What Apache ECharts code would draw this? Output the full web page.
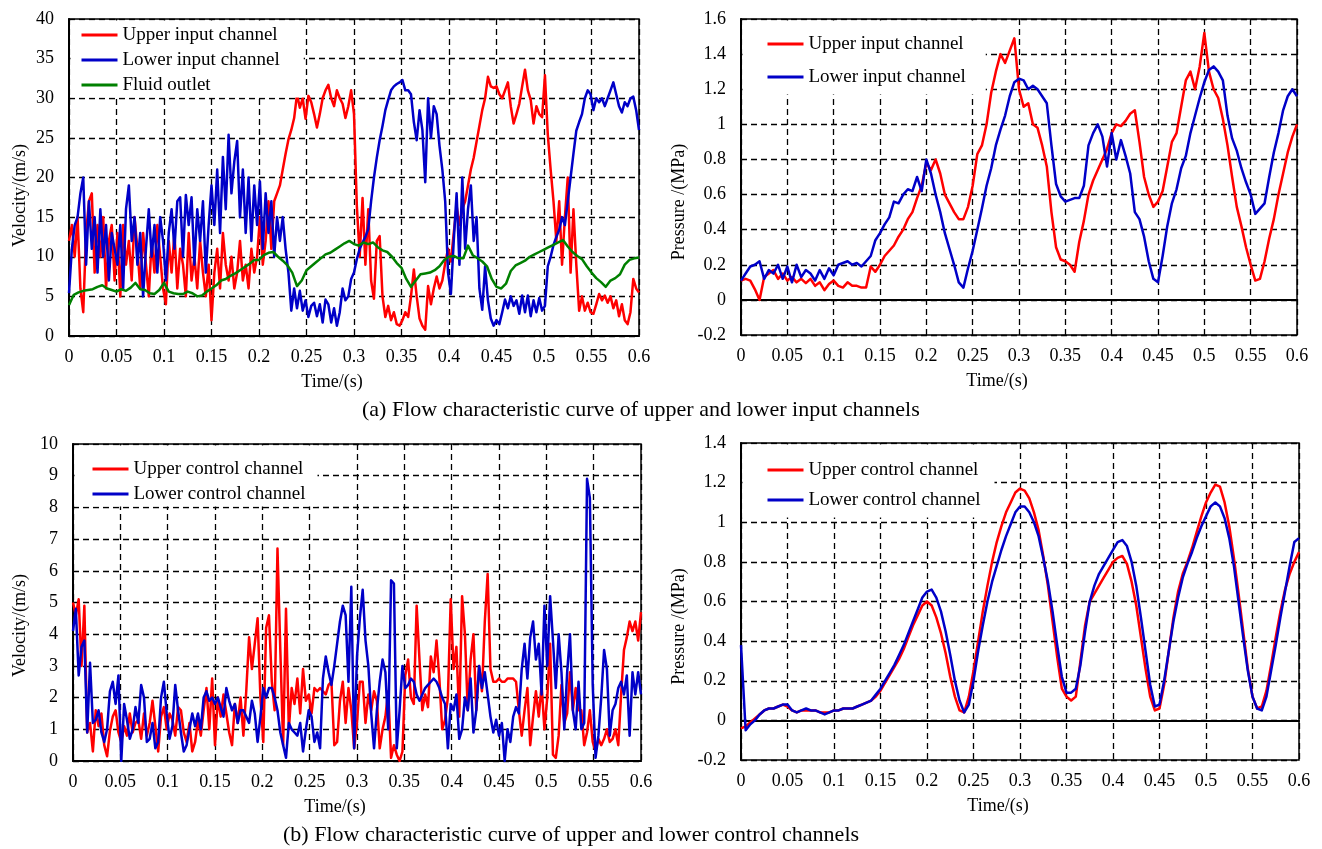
<!DOCTYPE html>
<html>
<head>
<meta charset="utf-8">
<title>Flow characteristic curves</title>
<script src="https://cdn.jsdelivr.net/npm/echarts@6/dist/echarts.min.js"></script>
<style>
    html, body { margin: 0; padding: 0; background: #fff; }
    #main { width: 1322px; height: 849px; }
</style>
</head>
<body>
<div id="main"></div>
<script>
var velStep = 0.003;
var presStep = 0.005;

// axis ranges: [min, max, interval]
var timeRange = [0, 0.6, 0.05];
var inputVelRange = [0, 40, 5];
var inputPresRange = [-0.2, 1.6, 0.2];
var controlVelRange = [0, 10, 1];
var controlPresRange = [-0.2, 1.4, 0.2];

// (a) velocity, m/s  (velStep)
var upperInputVel = [
    12, 14, 10, 15, 6, 3, 13, 17, 18, 8,
    14, 10, 15, 6, 12, 14, 7, 13, 5, 14,
    9, 12, 7, 15, 11, 6, 13, 9, 5, 12,
    8, 14, 10, 6, 4, 12, 8, 13, 6, 11,
    9, 5, 13, 7, 10, 6, 12, 8, 5, 9,
    2, 8, 11, 6, 13, 9, 7, 10, 6, 8,
    12, 7, 9, 6, 11, 8, 10, 15, 9, 12,
    17, 11, 17, 18, 19, 21, 23, 24.8, 26, 27.5,
    30.5, 28.8, 30, 27.4, 30.3, 29.5, 28, 26.3, 28, 30,
    31, 31.7, 30, 29, 31, 30, 29.3, 27.5, 29, 31,
    28, 16.4, 10, 17.4, 9, 16, 7, 4.7, 12, 12.6,
    5, 2.4, 3.8, 2, 3, 1.5, 1.3, 2, 3, 2.4,
    5, 8.4, 5, 2.2, 1.3, 0.8, 6.3, 4, 6, 7.5,
    6, 7, 9.2, 11, 9.4, 13, 16.4, 14, 16, 17,
    19, 21, 22.5, 24.5, 26.5, 28.5, 30, 32.7, 31.5, 31.3,
    31.5, 30.5, 30, 31, 32, 29, 26.8, 28, 29.3, 31.5,
    33.6, 31, 29.8, 26.8, 29, 28, 27.6, 32.9, 25.4, 21,
    17, 12, 17, 9, 15, 20, 8, 16, 9, 3.2,
    5, 3.2, 4.2, 3, 2.8, 4, 5.3, 4.5, 5.1, 4.2,
    5, 3.5, 4.5, 2.5, 4, 2, 1.5, 3, 7.2, 6,
    5.5
];
var lowerInputVel = [
    5.4, 11, 14, 15, 18, 20, 9, 17, 11, 15,
    8, 16, 10, 14, 7, 13, 11, 9, 14, 6,
    16, 19, 12, 15, 9, 13, 5, 11, 16, 10,
    14, 8, 15, 12, 7, 13, 16, 11, 17, 17.5,
    10, 17.8, 14, 17.5, 9, 16, 12, 17, 8, 14,
    19, 14, 21, 13, 22.6, 16, 25.4, 18, 22, 24.6,
    15, 21, 13, 20, 12, 19, 14, 19.5, 11, 18,
    13, 17, 10, 15, 12, 15, 11, 8, 3.2, 6,
    3.5, 5.7, 3.2, 4.5, 2.4, 3.8, 4.2, 2.5, 4, 1.7,
    4.6, 4, 1.7, 3.5, 1.3, 3, 6, 4.5, 5, 7.2,
    8, 9.7, 11, 11.8, 12.5, 13.5, 17, 20, 22.5, 24.7,
    26.5, 28.5, 29.8, 31, 31.5, 31.8, 32, 32.3, 31, 31,
    30.5, 27, 24.7, 28.5, 26, 19.4, 30, 25, 29, 28,
    24, 21, 17, 8, 5.3, 12, 18, 9, 20, 11,
    16, 19, 12, 15, 6, 3.3, 8.8, 4.5, 2.2, 1.3,
    2, 1.5, 3, 4.6, 3.5, 5, 3.8, 4.5, 2.8, 5.1,
    3, 5.1, 2.5, 4.5, 3, 4.8, 3.2, 3.8, 8.8, 10,
    11.5, 12.5, 13.4, 15, 14, 17, 20, 23, 25.9, 27,
    28, 30, 31, 30.5, 28.5, 30, 29.5, 30, 29, 30,
    31, 32, 30.5, 29, 28.2, 29.5, 29, 30, 30.2, 28.5,
    26
];
// (presStep)
var fluidOutletVel = [
    3.9, 5.2, 5.5, 5.7, 5.8, 5.9, 6.2, 6.4, 6.0, 5.8,
    5.6, 5.9, 5.7, 6.1, 6.7, 5.9, 5.8, 5.4, 5.3, 5.8,
    6.7, 5.6, 5.4, 5.3, 5.3, 5.6, 5.4, 5.0, 5.1, 5.6,
    6.0, 6.4, 7.0, 7.2, 7.6, 7.9, 8.3, 8.7, 9.1, 9.6,
    9.6, 10.2, 10.5, 10.6, 10.0, 9.5, 8.9, 8.0, 6.3, 7.0,
    8.3, 8.8, 9.3, 9.8, 10.3, 10.5, 10.9, 11.3, 11.7, 12.0,
    11.6, 11.4, 11.8, 11.6, 11.8, 11.2, 10.8, 10.6, 10.0, 9.2,
    8.6, 7.2, 6.2, 7.0, 7.8, 7.9, 8.0, 8.3, 8.8, 9.6,
    10.0, 10.1, 9.8, 9.8, 11.4, 10.2, 9.8, 9.4, 8.8, 7.2,
    6.2, 6.0, 6.6, 8.2, 8.9, 9.2, 9.5, 10.0, 10.3, 10.6,
    10.9, 11.2, 11.5, 11.8, 12.1, 11.3, 10.6, 10.1, 9.7, 8.8,
    8.0, 7.3, 6.8, 6.2, 7.0, 7.3, 7.8, 9.0, 9.6, 9.8,
    9.9
];

// (a) pressure, MPa  (presStep)
var upperInputPres = [
    0.11, 0.12, 0.11, 0.06, 0.0, 0.13, 0.15, 0.17, 0.12, 0.15,
    0.11, 0.13, 0.1, 0.12, 0.095, 0.12, 0.08, 0.1, 0.055, 0.09,
    0.11, 0.08, 0.07, 0.1, 0.08, 0.08, 0.07, 0.07, 0.19, 0.16,
    0.2, 0.25, 0.28, 0.31, 0.36, 0.4, 0.46, 0.5, 0.58, 0.65,
    0.78, 0.74, 0.8, 0.72, 0.6, 0.55, 0.5, 0.46, 0.46, 0.53,
    0.65, 0.83, 0.88, 1.0, 1.18, 1.3, 1.4, 1.35, 1.42, 1.49,
    1.2, 1.1, 1.12, 1.0, 0.98, 0.88, 0.76, 0.5, 0.3, 0.23,
    0.22, 0.2, 0.16, 0.33, 0.45, 0.6, 0.68, 0.74, 0.8, 0.86,
    0.95, 1.0, 0.99, 1.02, 1.06, 1.08, 0.9, 0.7, 0.6, 0.53,
    0.56, 0.62, 0.76, 0.9, 0.95, 1.1, 1.25, 1.3, 1.2, 1.33,
    1.52, 1.3, 1.2, 1.15, 1.03, 0.88, 0.7, 0.53, 0.42, 0.3,
    0.2, 0.11, 0.12, 0.22, 0.35, 0.46, 0.6, 0.72, 0.84, 0.93,
    1.0
];
var lowerInputPres = [
    0.11, 0.15, 0.19, 0.2, 0.22, 0.12, 0.17, 0.15, 0.2, 0.12,
    0.19, 0.1, 0.2, 0.13, 0.17, 0.15, 0.11, 0.17, 0.12, 0.18,
    0.14, 0.2, 0.21, 0.22, 0.2, 0.21, 0.19, 0.22, 0.25, 0.34,
    0.38, 0.43, 0.47, 0.56, 0.55, 0.6, 0.63, 0.62, 0.7, 0.62,
    0.8, 0.72, 0.6, 0.5, 0.38, 0.29, 0.2, 0.1, 0.07, 0.18,
    0.28, 0.4, 0.52, 0.65, 0.75, 0.88, 0.97, 1.05, 1.16, 1.24,
    1.26, 1.25, 1.2, 1.22, 1.2, 1.16, 1.12, 0.88, 0.66, 0.59,
    0.56, 0.57, 0.58, 0.58, 0.65, 0.88, 0.95, 1.0, 0.93, 0.76,
    0.95, 0.8, 0.91, 0.82, 0.72, 0.5, 0.46, 0.36, 0.22, 0.12,
    0.1, 0.25, 0.42, 0.55, 0.63, 0.75, 0.82, 0.95, 1.05, 1.15,
    1.24, 1.31, 1.33, 1.3, 1.25, 1.05, 0.92, 0.85, 0.75, 0.67,
    0.6, 0.49, 0.52, 0.55, 0.7, 0.84, 0.95, 1.08, 1.16, 1.2,
    1.16
];

// (b) velocity, m/s  (velStep)
var upperControlVel = [
    5.0, 4.6, 5.1, 3.0, 4.9, 0.9, 1.2, 0.3, 1.6, 1.1,
    1.5, 0.5, 0.15, 0.95, 1.4, 1.6, 0.9, 0.6, 1.1, 0.8,
    1.5, 0.9, 1.2, 1.3, 0.7, 1.5, 0.8, 1.2, 1.9, 1.1,
    0.3, 1.4, 1.7, 1.0, 1.5, 1.3, 0.8, 1.7, 1.6, 0.9,
    0.6, 1.2, 0.3, 0.6, 1.3, 0.8, 1.6, 2.3, 1.0, 2.6,
    0.5, 2.0, 1.4, 2.1, 1.5, 0.9, 0.5, 1.8, 1.2, 2.0,
    0.8, 2.2, 3.9, 2.9, 3.7, 4.5, 2.0, 0.6, 4.2, 4.6,
    2.5, 1.6, 6.7, 3.5, 0.5, 4.8, 1.0, 2.3, 1.8, 2.6,
    1.5, 2.9, 1.9, 2.1, 1.5, 2.3, 2.2, 2.3, 2.2, 2.1,
    2.4, 2.5, 0.5, 0.6, 1.9, 2.5, 1.2, 2.3, 1.6, 0.4,
    1.2, 2.5, 2.5, 1.2, 2.1, 1.6, 2.2, 1.9, 0.4, 1.0,
    1.4, 2.2, 0.1, 0.5, 0.2, 0.0, 0.3, 2.7, 3.2, 2.0,
    1.8, 4.9, 3.2, 1.6, 2.1, 1.7, 3.3, 2.8, 3.8, 2.6,
    1.0, 1.3, 2.0, 5.1, 2.9, 3.6, 1.4, 5.2, 4.0, 1.6,
    3.2, 4.0, 1.6, 3.0, 2.2, 4.4, 5.9, 2.9, 2.5, 2.5,
    2.6, 2.5, 2.5, 2.6, 2.6, 2.6, 2.5, 1.6, 0.8, 1.6,
    2.3, 0.5, 1.4, 2.2, 1.4, 2.4, 1.0, 2.0, 3.7, 0.2,
    0.1, 0.8, 2.4, 1.2, 1.5, 2.8, 1.6, 2.3, 1.6, 1.6,
    0.5, 0.9, 1.6, 0.6, 0.3, 0.7, 0.5, 0.7, 1.0, 0.6,
    0.7, 1.0, 0.5, 2.1, 3.5, 3.9, 4.4, 4.1, 4.4, 3.8,
    4.7
];
var lowerControlVel = [
    4.1, 4.8, 2.7, 3.6, 3.8, 0.9, 3.1, 1.2, 1.3, 1.6,
    0.9, 0.6, 1.0, 2.2, 2.5, 1.8, 2.7, 0.0, 1.8, 1.3,
    0.7, 1.0, 1.7, 1.2, 2.4, 2.0, 0.6, 0.7, 1.2, 0.4,
    0.6, 2.0, 2.5, 1.5, 0.7, 1.1, 2.4, 1.6, 0.9, 0.3,
    0.5, 1.0, 1.5, 1.1, 1.5, 1.0, 2.0, 2.2, 1.9, 2.0,
    1.8, 2.0, 1.7, 1.4, 2.3, 1.9, 1.6, 1.8, 1.2, 1.6,
    1.6, 1.4, 1.2, 1.9, 1.5, 0.6, 1.4, 2.3, 2.0, 2.3,
    2.3, 2.0, 1.6, 0.9, 0.5, 0.1, 1.2, 1.0, 0.9, 0.8,
    1.2, 0.3, 1.0, 1.6, 1.4, 0.6, 0.9, 0.4, 2.6, 3.3,
    2.8, 2.4, 3.0, 3.7, 4.4, 4.9, 4.6, 2.5, 5.5, 0.4,
    3.3, 4.5, 5.4, 3.8, 3.0, 1.5, 0.4, 1.6, 2.5, 3.2,
    2.8, 1.0, 5.7, 5.6, 0.4, 1.6, 3.0, 2.3, 2.4, 2.6,
    2.5, 2.1, 1.9, 2.1, 2.3, 2.4, 2.5, 2.6, 2.5, 2.3,
    2.0, 1.8, 0.4, 1.8, 1.6, 2.1, 0.7, 1.0, 2.0, 1.6,
    2.6, 0.9, 1.6, 3.0, 2.3, 2.8, 2.1, 1.4, 0.9, 1.3,
    0.8, 1.2, 0.0, 1.0, 0.6, 1.4, 1.7, 1.5, 2.9, 3.7,
    2.6, 3.9, 4.4, 3.2, 3.7, 2.1, 4.9, 3.0, 5.2, 3.8,
    2.3, 4.0, 2.8, 1.0, 2.8, 4.0, 1.6, 1.0, 2.5, 1.0,
    1.2, 8.9, 8.3, 2.4, 0.1, 0.8, 2.0, 3.5, 2.9, 0.8,
    1.6, 1.8, 2.3, 2.5, 2.1, 2.7, 0.8, 2.8, 2.1, 2.8,
    2.1
];

// (b) pressure, MPa  (presStep)
var upperControlPres = [
    -0.04, -0.03, -0.01, 0.01, 0.03, 0.05, 0.06, 0.06, 0.07, 0.08,
    0.07, 0.05, 0.04, 0.05, 0.05, 0.05, 0.05, 0.04, 0.04, 0.04,
    0.05, 0.05, 0.06, 0.06, 0.06, 0.07, 0.08, 0.09, 0.1, 0.12,
    0.15, 0.19, 0.23, 0.27, 0.31, 0.36, 0.42, 0.48, 0.53, 0.58,
    0.6, 0.58, 0.52, 0.44, 0.34, 0.22, 0.12, 0.05, 0.04, 0.12,
    0.25, 0.4, 0.55, 0.68, 0.8, 0.9, 0.98, 1.05, 1.1, 1.15,
    1.17, 1.16, 1.12, 1.05, 0.96, 0.83, 0.68, 0.5, 0.32, 0.16,
    0.12, 0.1, 0.12, 0.3, 0.48, 0.6, 0.64, 0.68, 0.72, 0.76,
    0.8, 0.82, 0.83, 0.79, 0.7, 0.58, 0.42, 0.26, 0.12, 0.05,
    0.06, 0.18, 0.35, 0.52, 0.65, 0.74, 0.8, 0.87, 0.95, 1.03,
    1.1, 1.15, 1.19, 1.18, 1.1, 0.98, 0.82, 0.64, 0.45, 0.26,
    0.12, 0.06, 0.07, 0.15, 0.28, 0.42, 0.55, 0.66, 0.74, 0.8,
    0.85
];
var lowerControlPres = [
    0.38, -0.05, -0.02, 0.0, 0.03, 0.05, 0.06, 0.06, 0.07, 0.08,
    0.08, 0.05, 0.04, 0.05, 0.06, 0.05, 0.05, 0.04, 0.03, 0.04,
    0.05, 0.05, 0.06, 0.06, 0.06, 0.07, 0.08, 0.09, 0.1, 0.13,
    0.16, 0.2, 0.24, 0.28, 0.33, 0.38, 0.44, 0.5, 0.56, 0.62,
    0.65, 0.66, 0.62, 0.55, 0.45, 0.33, 0.2, 0.1, 0.04, 0.08,
    0.2, 0.35, 0.48, 0.6, 0.7, 0.78, 0.86, 0.93, 0.99, 1.05,
    1.08, 1.08, 1.05, 1.0, 0.93, 0.82, 0.7, 0.55, 0.38, 0.22,
    0.14, 0.14, 0.16, 0.28, 0.45, 0.6, 0.68, 0.74, 0.78, 0.82,
    0.86, 0.9, 0.91, 0.88, 0.8, 0.68, 0.52, 0.35, 0.18, 0.07,
    0.08, 0.2, 0.35, 0.5, 0.62, 0.72, 0.79, 0.85, 0.92, 0.98,
    1.03, 1.08, 1.1, 1.08, 1.02, 0.92, 0.78, 0.6, 0.42, 0.25,
    0.12, 0.06, 0.05, 0.12, 0.25, 0.38, 0.52, 0.65, 0.78, 0.9,
    0.92
];

var FONT = 'Liberation Serif';
var RED = '#ff0000', BLUE = '#0000c8', GREEN = '#008000';

// pair each reading with its sample time
function withTime(values, step) {
    return values.map(function (v, i) {
        return [Math.round(i * step * 10000) / 10000, v];
    });
}

function xAxisOf(gi) {
    return {
        type: 'value', gridIndex: gi,
        min: timeRange[0], max: timeRange[1], interval: timeRange[2],
        name: 'Time/(s)', nameLocation: 'middle', nameGap: 37,
        nameTextStyle: {fontFamily: FONT, fontSize: 18, color: '#000', padding: [0, 44, 0, 0]},
        axisLine: {lineStyle: {color: '#000', width: 2}},
        axisTick: {show: false},
        axisLabel: {fontFamily: FONT, fontSize: 18, color: '#000', margin: 12},
        splitLine: {lineStyle: {color: '#000', type: [6, 4], width: 1.3}}
    };
}

function yAxisOf(gi, range, name, gap, shift) {
    return {
        type: 'value', gridIndex: gi,
        min: range[0], max: range[1], interval: range[2],
        name: name, nameLocation: 'middle', nameGap: gap,
        nameTextStyle: {fontFamily: FONT, fontSize: 18, color: '#000', padding: [0, shift * 2, 0, 0]},
        axisLine: {lineStyle: {color: '#000', width: 2}},
        axisTick: {inside: true, length: 4, lineStyle: {color: '#000'}},
        axisLabel: {fontFamily: FONT, fontSize: 18, color: '#000', margin: 15},
        splitLine: {lineStyle: {color: '#000', type: [6, 4], width: 1.3}}
    };
}

function legendOf(names, left, top, padding, gap) {
    return {
        data: names, orient: 'vertical', left: left, top: top,
        padding: padding, itemGap: gap, selectedMode: false,
        backgroundColor: '#fff',
        icon: 'rect', itemWidth: 36, itemHeight: 3,
        textStyle: {fontFamily: FONT, fontSize: 19, color: '#000'}
    };
}

function lineOf(name, gi, values, step, color) {
    return {
        name: name, type: 'line', xAxisIndex: gi, yAxisIndex: gi,
        data: withTime(values, step),
        showSymbol: false, symbol: 'none', smooth: false,
        lineStyle: {color: color, width: 2.5, join: 'round'},
        itemStyle: {color: color}
    };
}

var gridBox = {show: true, borderColor: '#000', borderWidth: 1.5};

var option = {
    animation: false,
    backgroundColor: '#fff',
    grid: [
        Object.assign({left: 69, top: 19, width: 570, height: 317}, gridBox),
        Object.assign({left: 741, top: 19, width: 556, height: 316}, gridBox),
        Object.assign({left: 73, top: 444, width: 568, height: 317}, gridBox),
        Object.assign({left: 741, top: 443, width: 558, height: 317}, gridBox)
    ],
    xAxis: [xAxisOf(0), xAxisOf(1), xAxisOf(2), xAxisOf(3)],
    yAxis: [
        yAxisOf(0, inputVelRange, 'Velocity/(m/s)', 40, 18),
        yAxisOf(1, inputPresRange, 'Pressure /(MPa)', 53, 25),
        yAxisOf(2, controlVelRange, 'Velocity/(m/s)', 44, 23),
        yAxisOf(3, controlPresRange, 'Pressure /(MPa)', 53, 25)
    ],
    legend: [
        legendOf(['Upper input channel', 'Lower input channel', 'Fluid outlet'], 70.5, 20.5, [5, 24, 3, 11], 6),
        legendOf(['Upper input channel', 'Lower input channel'], 742.5, 20.5, [14, 20, 8, 25], 14),
        legendOf(['Upper control channel', 'Lower control channel'], 74.5, 445.5, [14, 12, 3, 18], 6),
        legendOf(['Upper control channel', 'Lower control channel'], 742.5, 444.5, [16, 14, 8, 25], 11)
    ],
    graphic: [
        {type: 'text', left: 362, top: 399,
         style: {text: '(a) Flow characteristic curve of upper and lower input channels',
                 font: '22px "Liberation Serif"', fill: '#000'}},
        {type: 'text', left: 283, top: 824,
         style: {text: '(b) Flow characteristic curve of upper and lower control channels',
                 font: '22px "Liberation Serif"', fill: '#000'}}
    ],
    series: [
        lineOf('Upper input channel', 0, upperInputVel, velStep, RED),
        lineOf('Lower input channel', 0, lowerInputVel, velStep, BLUE),
        lineOf('Fluid outlet', 0, fluidOutletVel, presStep, GREEN),
        lineOf('Upper input channel', 1, upperInputPres, presStep, RED),
        lineOf('Lower input channel', 1, lowerInputPres, presStep, BLUE),
        lineOf('Upper control channel', 2, upperControlVel, velStep, RED),
        lineOf('Lower control channel', 2, lowerControlVel, velStep, BLUE),
        lineOf('Upper control channel', 3, upperControlPres, presStep, RED),
        lineOf('Lower control channel', 3, lowerControlPres, presStep, BLUE)
    ]
};

var chart = echarts.init(document.getElementById('main'));
chart.setOption(option);
</script>
</body>
</html>
